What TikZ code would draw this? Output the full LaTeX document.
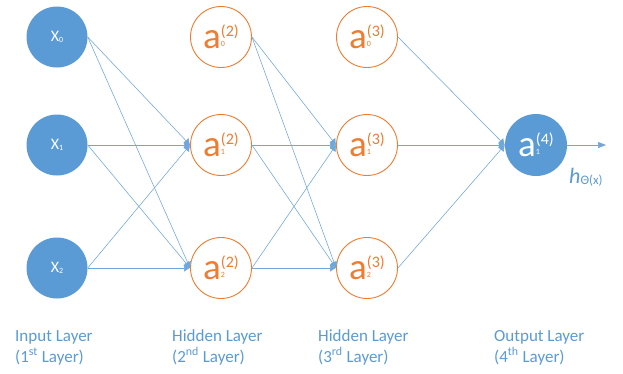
\documentclass[tikz,border=0pt]{standalone}
\usepackage{fontspec}
\setmainfont{Carlito}
\usetikzlibrary{arrows.meta}
\definecolor{nblue}{HTML}{5B9BD5}
\definecolor{norange}{HTML}{ED7D31}
\definecolor{lblue}{HTML}{6FA6DC}
\newcommand{\xlab}[1]{{\fontsize{16}{16}\selectfont X}\raisebox{-0.5pt}{\fontsize{8}{8}\selectfont #1}}
\newcommand{\alab}[2]{{\fontsize{37}{37}\selectfont a}\rlap{\raisebox{2pt}{\fontsize{8}{8}\selectfont #1}}\raisebox{12pt}{\fontsize{16}{16}\selectfont (#2)}}
\tikzset{
  inunit/.style={circle, fill=nblue, draw=none, minimum size=61pt, inner sep=0pt, text=white},
  hidunit/.style={circle, fill=white, draw=norange, line width=0.9pt, minimum size=61pt, inner sep=0pt, text=norange},
  outunit/.style={circle, fill=nblue, draw=none, minimum size=62pt, inner sep=0pt, text=white},
  edge/.style={draw=lblue, line width=0.55pt, -{Latex[length=6pt,width=7.5pt]}},
  layerlab/.style={anchor=base west, text=nblue, font=\fontsize{17}{17}\selectfont, inner sep=0pt},
}
\begin{document}
\begin{tikzpicture}[x=1pt,y=-1pt]
\fill[white] (0,0) rectangle (623,373);
\useasboundingbox (0,0) rectangle (623,373);
% input layer
\node[inunit] (x0) at (57,37) {\xlab{0}};
\node[inunit] (x1) at (57,145) {\xlab{1}};
\node[inunit] (x2) at (57,268) {\xlab{2}};
% hidden layer 2
\node[hidunit] (h20) at (221,37) {\alab{0}{2}};
\node[hidunit] (h21) at (221,145) {\alab{1}{2}};
\node[hidunit] (h22) at (221,268) {\alab{2}{2}};
% hidden layer 3
\node[hidunit] (h30) at (367,37) {\alab{0}{3}};
\node[hidunit] (h31) at (367,145) {\alab{1}{3}};
\node[hidunit] (h32) at (367,268) {\alab{2}{3}};
% output
\node[outunit] (o) at (536,145) {\alab{1}{4}};
\coordinate (out) at (606,145);
% edges
\foreach \s in {x0,x1,x2}{
  \foreach \t in {h21,h22}{
    \draw[edge] (\s.east) -- (\t.west);
  }
}
\foreach \s in {h20,h21,h22}{
  \foreach \t in {h31,h32}{
    \draw[edge] (\s.east) -- (\t.west);
  }
}
\foreach \s in {h30,h31,h32}{
  \draw[edge] (\s.east) -- (o.west);
}
\draw[draw=lblue, line width=0.55pt, -{Triangle[length=8pt,width=6pt]}] (o.east) -- (out);
\node[anchor=base west, text=nblue, inner sep=0pt] (hx) at (569,183) {{\fontsize{22}{22}\selectfont\itshape h}\raisebox{-1pt}{\fontsize{13}{13}\selectfont Θ(x)}};
% labels
\node[layerlab] (l1a) at (15,341) {Input Layer};
\node[layerlab] (l1b) at (15,362) {(1\textsuperscript{st} Layer)};
\node[layerlab] (l2a) at (172,341) {Hidden Layer};
\node[layerlab] (l2b) at (172,362) {(2\textsuperscript{nd} Layer)};
\node[layerlab] (l3a) at (318,341) {Hidden Layer};
\node[layerlab] (l3b) at (318,362) {(3\textsuperscript{rd} Layer)};
\node[layerlab] (l4a) at (494,341) {Output Layer};
\node[layerlab] (l4b) at (494,362) {(4\textsuperscript{th} Layer)};
\end{tikzpicture}
\end{document}
